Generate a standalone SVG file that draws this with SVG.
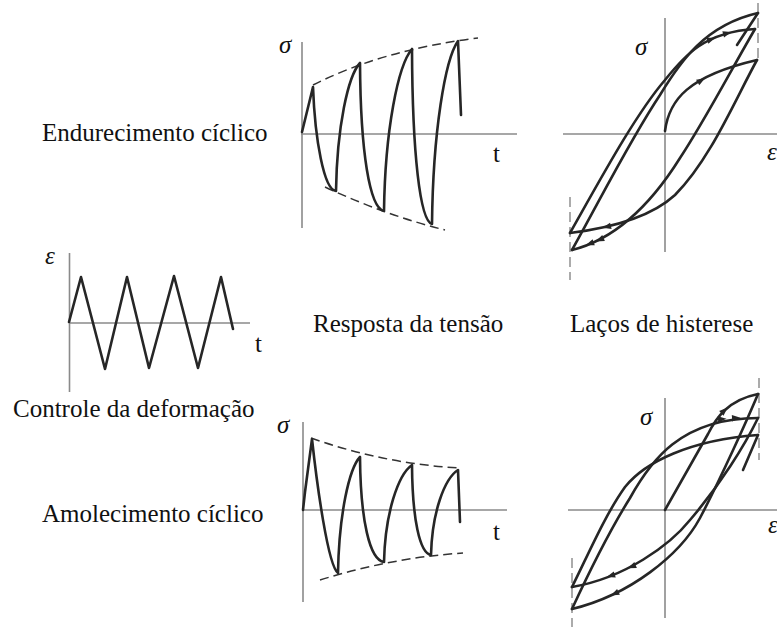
<svg xmlns="http://www.w3.org/2000/svg" xmlns:xlink="http://www.w3.org/1999/xlink" width="777" height="628" viewBox="0 0 777 628">
<style>
.lbl{font-family:"Liberation Serif","Times New Roman",serif;font-size:25px;fill:#111}
.sym{font-family:"Liberation Serif","Times New Roman",serif;font-size:25px;font-style:italic;fill:#111}
.ax{stroke:#8a8a8a;stroke-width:1.6;fill:none}
.cv{stroke:#262626;stroke-width:2.6;fill:none;stroke-linejoin:round;stroke-linecap:round}
.dash{stroke:#333;stroke-width:1.5;fill:none;stroke-dasharray:9 5}
.vd{stroke:#888;stroke-width:1.4;fill:none;stroke-dasharray:10 5}
</style>
<defs>
<path id="ah" d="M3.5,0 L-5,-3.2 L-5,3.2 Z" fill="#262626"/>
</defs>
<rect width="777" height="628" fill="#fff"/>

<g id="labels">
<text class="lbl" x="42" y="141">Endurecimento cíclico</text>
<text class="lbl" x="313" y="332">Resposta da tensão</text>
<text class="lbl" x="570" y="332">Laços de histerese</text>
<text class="lbl" x="13" y="417">Controle da deformação</text>
<text class="lbl" x="42" y="522">Amolecimento cíclico</text>
</g>

<g id="strain-control">
<line class="ax" x1="69.5" y1="253" x2="69.5" y2="392"/>
<line class="ax" x1="69" y1="323" x2="250" y2="323"/>
<path class="cv" d="M69,322 L81,277 L105,369 L127,277 L149,368 L174,276 L198,368 L221,277 L233,329"/>
<text class="sym" x="45" y="264">ε</text>
<text class="lbl" x="255" y="352">t</text>
</g>

<g id="hardening-response">
<line class="ax" x1="302" y1="42" x2="302" y2="228"/>
<line class="ax" x1="301" y1="134" x2="517" y2="134"/>
<path class="dash" d="M313,85 Q382,50 478,38"/>
<path class="dash" d="M325,187 Q385,215 445,230"/>
<path class="cv" d="M302,132 L313,87 C315,140 324,190 336,191 C337,127 348,75.8 360,63 C360.5,151.8 369.6,208 384,211 C385.1,130 398,65.2 412,49 C412.4,154 420,220.5 432,224 C433,132.5 445,59.3 458,41 L461,115"/>
<text class="sym" x="279" y="53">σ</text>
<text class="lbl" x="493" y="162">t</text>
</g>

<g id="hardening-loops">
<line class="ax" x1="665" y1="18" x2="665" y2="252"/>
<line class="ax" x1="563" y1="134" x2="777" y2="134"/>
<line class="vd" x1="758" y1="3" x2="758" y2="60"/>
<line class="vd" x1="570" y1="197" x2="570" y2="280"/>
<path class="cv" d="M665,131 C669,100 688,76 757,60"/>
<path class="cv" d="M757,60 C735,100 710,160 675,195 C650,218 610,228 570,233"/>
<path class="cv" d="M570,233 C600,180 635,115 665,80 C685,55 705,32 755,29"/>
<path class="cv" d="M755,29 C730,72 705,120 680,158 C655,198 620,238 572,250"/>
<path class="cv" d="M572,250 C600,200 630,140 660,95 C680,62 705,25 758,13"/>
<path class="cv" d="M758,13 L737,45"/>
<use xlink:href="#ah" transform="translate(702,80) rotate(-30)"/>
<use xlink:href="#ah" transform="translate(712,39) rotate(-20)"/>
<use xlink:href="#ah" transform="translate(728,33) rotate(-15)"/>
<use xlink:href="#ah" transform="translate(606,227) rotate(166)"/>
<use xlink:href="#ah" transform="translate(599,240) rotate(156)"/>
<use xlink:href="#ah" transform="translate(589,244) rotate(160)"/>
<text class="sym" x="635" y="55">σ</text>
<text class="sym" x="767" y="160">ε</text>
</g>

<g id="softening-response">
<line class="ax" x1="303" y1="422" x2="303" y2="602"/>
<line class="ax" x1="302" y1="510" x2="507" y2="510"/>
<path class="dash" d="M311,438 Q385,464 460,468"/>
<path class="dash" d="M320,580 Q390,558 463,553"/>
<path class="cv" d="M303,510 L305,492 L312,439 C317,485 328,566 338,573 C339,515 349,468.6 360,457 C360.5,520 369.6,560 384,562 C385.1,513.5 398,474.7 412,465 C412.4,519 419.6,553.2 431,555 C432,512.5 444.5,478.5 458,470 L460,522"/>
<text class="sym" x="277" y="433">σ</text>
<text class="lbl" x="493" y="540">t</text>
</g>

<g id="softening-loops">
<line class="ax" x1="665" y1="398" x2="665" y2="618"/>
<line class="ax" x1="568" y1="510" x2="777" y2="510"/>
<line class="vd" x1="759" y1="378" x2="759" y2="460"/>
<line class="vd" x1="572" y1="558" x2="572" y2="627"/>
<path class="cv" d="M665,510 L708,434 C716,418 728,400 758,394"/>
<path class="cv" d="M758,394 C748,418 720,480 700,518 C680,555 630,595 572,609"/>
<path class="cv" d="M572,609 C590,570 610,530 630,498 C650,462 680,418 758,418"/>
<path class="cv" d="M758,418 C745,445 720,485 690,520 C670,545 625,578 572,587"/>
<path class="cv" d="M572,587 C588,555 605,515 625,487 C645,462 690,440 758,435"/>
<path class="cv" d="M758,435 L743,470"/>
<use xlink:href="#ah" transform="translate(725,410) rotate(-43)"/>
<use xlink:href="#ah" transform="translate(723,419) rotate(-5)"/>
<use xlink:href="#ah" transform="translate(737,418) rotate(-3)"/>
<use xlink:href="#ah" transform="translate(631,567) rotate(157)"/>
<use xlink:href="#ah" transform="translate(610,576) rotate(162)"/>
<use xlink:href="#ah" transform="translate(614,594) rotate(154)"/>
<text class="sym" x="640" y="425">σ</text>
<text class="sym" x="768" y="533">ε</text>
</g>
</svg>
